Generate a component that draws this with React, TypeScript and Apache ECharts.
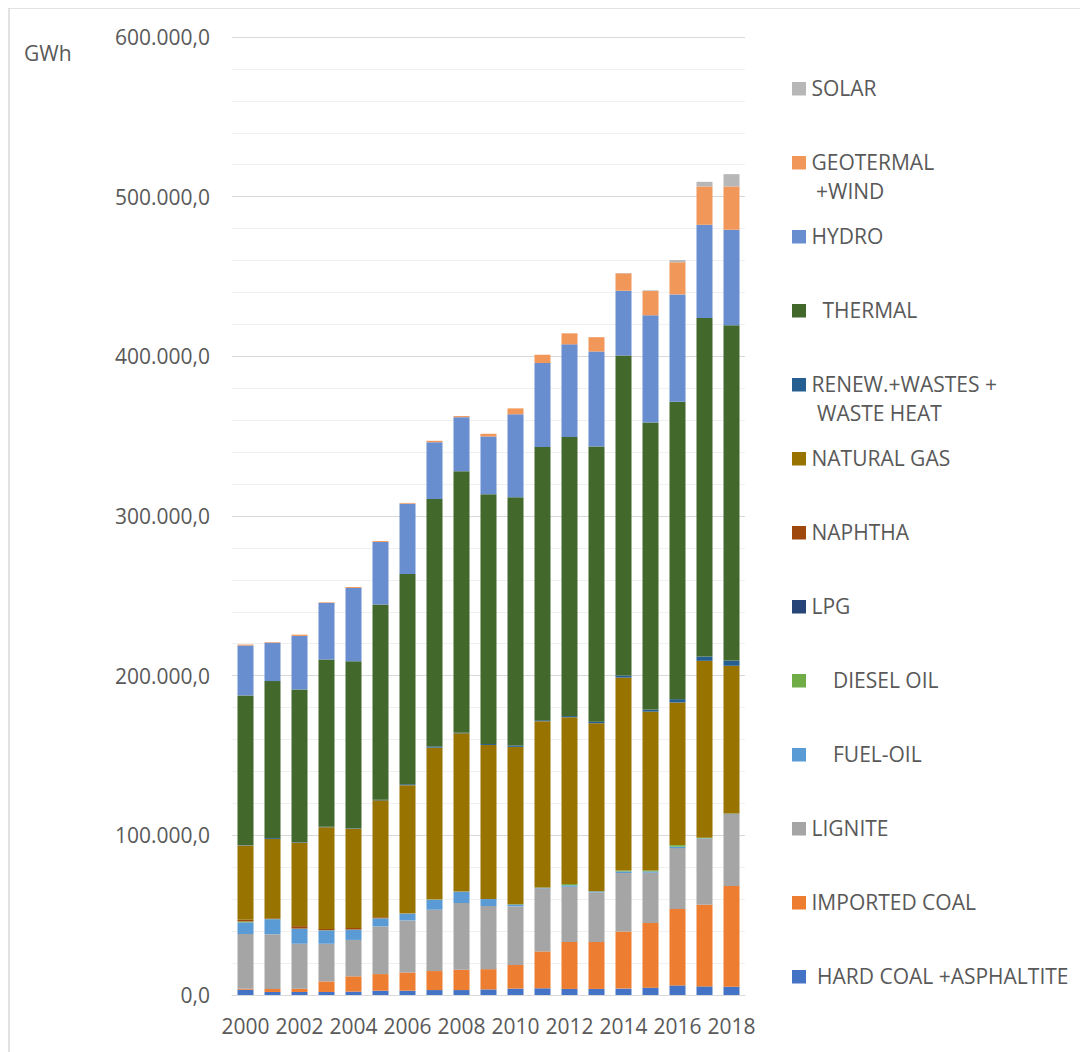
import React, { useEffect, useRef } from "react";
import * as echarts from "echarts";

const YEARS = ["2000","2001","2002","2003","2004","2005","2006","2007","2008","2009","2010","2011","2012","2013","2014","2015","2016","2017","2018"];

const HARD_COAL = [3300,1900,1900,1900,2100,2700,2700,3100,3100,3500,4000,4200,3800,3800,4000,4600,6000,5400,5200];
const IMPORTED_COAL = [600,1900,2000,6600,9600,10400,11400,11900,12700,12700,14800,23100,29400,29400,35800,40500,47800,51200,63000];
const LIGNITE = [34300,34300,28200,23600,22800,29900,32600,38400,41800,39500,36700,39500,34600,31100,36600,31500,38200,41300,45100];
const FUEL_OIL = [7300,9400,9400,8400,6400,5000,4200,6200,7100,4400,1200,400,900,600,1000,800,900,300,200];
const DIESEL_OIL = [600,200,100,100,100,100,200,200,100,100,200,200,800,100,600,600,1000,300,200];
const LPG = [0,0,0,0,0,0,0,0,0,0,0,0,0,0,0,0,0,0,0];
const NAPHTHA = [1000,400,1500,800,1000,600,200,100,0,0,0,0,0,0,0,0,0,0,0];
const NATURAL_GAS = [46600,49700,52400,63700,62200,73200,80100,95000,99100,96400,98500,104100,104500,105200,120800,99500,89300,110800,92500];
const RENEW_WASTES = [300,600,300,300,300,400,600,800,300,600,900,600,700,1000,1300,1300,2100,2700,3300];
const THERMAL = [93600,98200,95500,104700,104500,122200,131700,154900,163900,156500,155500,171100,174800,172300,200500,179700,186300,212000,209900];
const HYDRO = [31300,24000,33600,35400,45900,39200,44000,35600,33800,36100,51900,52600,58000,59500,40500,67200,67200,58400,59900];
const GEO_WIND = [600,400,800,400,600,600,500,900,700,1700,3700,5200,6900,9000,10900,15200,20100,24000,27100];
const SOLAR = [0,0,0,0,0,0,0,0,0,0,0,0,0,0,200,400,1400,2900,7700];

const Y_TICKS_MAX = 600000;
const Y_UNIT = "GWh";

// stacking order: bottom to top
const SERIES = [
  { name: "HARD COAL +ASPHALTITE", data: HARD_COAL, color: "#4472C4", legend: [["HARD COAL +ASPHALTITE", 5.5]] },
  { name: "IMPORTED COAL", data: IMPORTED_COAL, color: "#ED7D31", legend: [["IMPORTED COAL", 0]] },
  { name: "LIGNITE", data: LIGNITE, color: "#A5A5A5", legend: [["LIGNITE", 0]] },
  { name: "FUEL-OIL", data: FUEL_OIL, color: "#5B9BD5", legend: [["FUEL-OIL", 21.5]] },
  { name: "DIESEL OIL", data: DIESEL_OIL, color: "#70AD47", legend: [["DIESEL OIL", 21.5]] },
  { name: "LPG", data: LPG, color: "#264478", legend: [["LPG", 0]] },
  { name: "NAPHTHA", data: NAPHTHA, color: "#9E480E", legend: [["NAPHTHA", 0]] },
  { name: "NATURAL GAS", data: NATURAL_GAS, color: "#997300", legend: [["NATURAL GAS", 0]] },
  { name: "RENEW.+WASTES + WASTE HEAT", data: RENEW_WASTES, color: "#255E91", legend: [["RENEW.+WASTES +", 0], ["WASTE HEAT", 5.5]] },
  { name: "THERMAL", data: THERMAL, color: "#43682B", legend: [["THERMAL", 11]] },
  { name: "HYDRO", data: HYDRO, color: "#698ED0", legend: [["HYDRO", 0]] },
  { name: "GEOTERMAL +WIND", data: GEO_WIND, color: "#F1975A", legend: [["GEOTERMAL", 0], ["+WIND", 4.5]] },
  { name: "SOLAR", data: SOLAR, color: "#B7B7B7", legend: [["SOLAR", 0]] },
];

const FONT = '"Open Sans", "Noto Sans", sans-serif';
const TEXT_COLOR = "#595959";

function fmt(v: number): string {
  const s = Math.round(v).toString().replace(/\B(?=(\d{3})+(?!\d))/g, ".");
  return s + ",0";
}

export default function App() {
  const ref = useRef<HTMLDivElement>(null);
  useEffect(() => {
    if (!ref.current) return;
    const chart = echarts.init(ref.current, null, { renderer: "svg" });

    const graphics: any[] = [];
    // outer border (left & top)
    graphics.push({ type: "line", shape: { x1: 1, y1: 0, x2: 1, y2: 1044 }, style: { stroke: "#D9D9D9", lineWidth: 1.5 } });
    graphics.push({ type: "line", shape: { x1: 1, y1: 0, x2: 1080, y2: 0 }, style: { stroke: "#D9D9D9", lineWidth: 1.5 } });
    // unit label
    graphics.push({
      type: "text", left: 16, top: 34,
      style: { text: Y_UNIT, font: `21px ${FONT}`, fill: TEXT_COLOR },
    });
    // legend (top to bottom = reverse of stacking order)
    const legendItems = [...SERIES].reverse();
    const startY = 80;
    const gap = 74;
    const lineH = 28.5;
    legendItems.forEach((s, i) => {
      const cy = startY + i * gap;
      graphics.push({
        type: "rect",
        shape: { x: 784, y: cy - 6, width: 14, height: 13.5 },
        style: { fill: s.color },
      });
      s.legend.forEach((ln: any, j: number) => {
        graphics.push({
          type: "text",
          x: 803.5 + ln[1],
          y: cy - lineH / 2 + j * lineH,
          style: {
            text: ln[0],
            font: `21px ${FONT}`,
            fill: TEXT_COLOR,
            verticalAlign: "top",
            lineHeight: lineH,
          },
        });
      });
    });

    chart.setOption({
      animation: false,
      grid: { left: 224, top: 29, width: 513, height: 958 },
      xAxis: {
        type: "category",
        data: YEARS,
        axisTick: { show: false },
        axisLine: { lineStyle: { color: "#D9D9D9", width: 1 } },
        axisLabel: { interval: 1, fontSize: 21, color: TEXT_COLOR, fontFamily: FONT, margin: 20 },
      },
      yAxis: {
        type: "value",
        min: 0,
        max: Y_TICKS_MAX,
        interval: 100000,
        axisLine: { show: false },
        axisTick: { show: false },
        axisLabel: { formatter: fmt, fontSize: 21, color: TEXT_COLOR, fontFamily: FONT, margin: 22 },
        splitLine: { lineStyle: { color: "#D9D9D9", width: 1 } },
        minorTick: { show: false, splitNumber: 5 },
        minorSplitLine: { show: true, lineStyle: { color: "#F0F0F0", width: 1 } },
      },
      series: SERIES.map((s) => ({
        name: s.name,
        type: "bar",
        stack: "total",
        barWidth: 16,
        data: s.data,
        itemStyle: { color: s.color },
      })),
      graphic: graphics,
    });
    return () => chart.dispose();
  }, []);
  return <div ref={ref} style={{ width: 1080, height: 1044 }} />;
}
